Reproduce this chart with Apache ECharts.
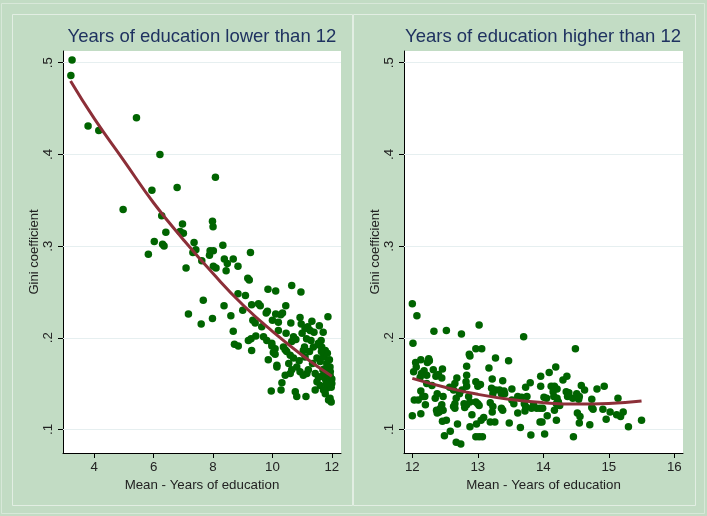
<!DOCTYPE html>
<html>
<head>
<meta charset="utf-8">
<script src="https://cdn.jsdelivr.net/npm/echarts@6/dist/echarts.min.js"></script>
<style>
  html, body { margin: 0; padding: 0; background: #c2dcc4; }
  #chart { width: 707px; height: 516px; }
</style>
</head>
<body>
<div id="chart"></div>
<script>
// mean years of education vs gini, districts below 12 years
const lowerEdu = [
  [3.25,0.503],[3.21,0.486],[3.79,0.431],[4.15,0.426],[5.42,0.440],[6.21,0.400],[8.08,0.375],
  [6.79,0.364],[5.94,0.361],[4.97,0.340],[6.27,0.333],[6.97,0.324],[7.98,0.327],[8.00,0.321],
  [6.41,0.315],[6.89,0.316],[7.00,0.314],[6.02,0.305],[6.30,0.302],[6.35,0.300],[5.82,0.291],
  [7.36,0.304],[8.33,0.301],[7.32,0.293],[7.42,0.296],[7.90,0.295],[8.01,0.295],[7.88,0.290],
  [9.26,0.293],[7.62,0.284],[8.38,0.286],[8.48,0.281],[8.68,0.286],[8.01,0.278],[8.10,0.276],
  [8.44,0.273],[8.84,0.278],[7.09,0.276],[9.17,0.265],[9.22,0.263],[9.85,0.253],[10.11,0.251],
  [10.65,0.257],[10.96,0.250],[8.84,0.248],[9.09,0.246],[7.67,0.241],[8.37,0.235],[9.30,0.236],
  [9.53,0.237],[9.59,0.235],[10.45,0.235],[7.17,0.226],[8.60,0.224],[7.98,0.221],[7.60,0.215],
  [9.00,0.230],[8.68,0.207],[9.34,0.219],[9.42,0.216],[9.83,0.229],[9.79,0.227],[10.11,0.226],
  [10.28,0.225],[10.34,0.227],[10.00,0.219],[10.20,0.217],[10.93,0.222],[11.33,0.218],[11.87,0.223],
  [10.62,0.216],[10.97,0.215],[11.10,0.210],[11.27,0.208],[11.19,0.212],[11.58,0.213],[11.71,0.206],
  [9.64,0.212],[10.20,0.208],[10.46,0.205],[9.19,0.197],[9.28,0.199],[9.44,0.202],[9.70,0.201],
  [9.81,0.197],[10.71,0.201],[10.79,0.198],[10.65,0.196],[11.15,0.199],[11.30,0.197],[11.64,0.197],
  [11.58,0.192],[11.66,0.190],[8.72,0.193],[8.85,0.191],[9.98,0.191],[10.09,0.188],[10.37,0.190],
  [10.43,0.187],[11.08,0.190],[11.38,0.190],[9.30,0.186],[9.86,0.176],[9.98,0.194],[10.03,0.184],
  [10.09,0.182],[10.15,0.168],[10.43,0.159],[10.32,0.151],[9.96,0.142],[10.29,0.143],[10.48,0.185],
  [10.60,0.181],[10.71,0.178],[11.04,0.186],[11.10,0.179],[10.82,0.168],[10.65,0.165],[10.60,0.161],
  [10.93,0.163],[11.04,0.159],[11.16,0.161],[11.21,0.165],[10.77,0.141],[10.82,0.136],[11.13,0.136],
  [11.44,0.143],[11.55,0.194],[11.78,0.186],[11.50,0.178],[11.61,0.174],[11.72,0.179],[11.83,0.172],
  [11.94,0.168],[11.44,0.161],[11.55,0.157],[11.66,0.158],[11.78,0.155],[11.89,0.153],[12.00,0.155],
  [11.61,0.148],[11.72,0.143],[11.83,0.145],[11.78,0.139],[11.94,0.134],[11.98,0.130],[11.89,0.132],
  [12.00,0.150],[11.95,0.158],[11.85,0.163],[11.75,0.166],[11.92,0.176],[10.15,0.170],[11.40,0.206],
  [11.25,0.185],[11.35,0.172],[11.70,0.165],[11.88,0.160],[11.98,0.146],[11.85,0.183],[10.90,0.175],
  [11.00,0.205],[10.55,0.172],[11.50,0.152],[11.65,0.185],[11.95,0.163],[11.82,0.150]
];

// districts above 12 years
const higherEdu = [
  [12.00,0.237],[12.07,0.224],[12.33,0.207],[12.52,0.208],[12.75,0.204],[13.02,0.214],[13.70,0.201],
  [14.49,0.188],[12.01,0.194],[12.97,0.188],[13.06,0.188],[12.87,0.182],[12.88,0.180],[13.27,0.178],
  [13.47,0.175],[12.13,0.176],[12.25,0.177],[12.23,0.173],[12.26,0.175],[12.05,0.173],[12.02,0.163],
  [12.06,0.168],[12.83,0.169],[13.17,0.167],[12.46,0.166],[12.32,0.165],[12.40,0.160],[12.36,0.158],
  [12.45,0.156],[12.14,0.161],[12.18,0.164],[12.12,0.157],[12.22,0.159],[12.68,0.156],[12.83,0.159],
  [12.65,0.150],[13.22,0.155],[13.38,0.153],[12.22,0.150],[12.30,0.148],[12.82,0.152],[12.83,0.147],
  [12.97,0.152],[13.04,0.149],[13.00,0.147],[12.57,0.146],[12.63,0.143],[12.76,0.143],[12.72,0.139],
  [13.52,0.144],[13.21,0.145],[13.27,0.143],[13.33,0.143],[13.36,0.139],[13.23,0.139],[13.40,0.142],
  [13.41,0.139],[12.13,0.142],[12.16,0.136],[12.35,0.134],[12.38,0.139],[12.03,0.132],[12.09,0.132],
  [12.19,0.136],[12.47,0.136],[12.86,0.136],[12.88,0.130],[12.83,0.127],[12.67,0.134],[12.65,0.128],
  [12.65,0.123],[12.97,0.130],[13.02,0.126],[13.00,0.128],[13.19,0.129],[13.23,0.125],[13.22,0.119],
  [13.36,0.123],[13.38,0.121],[13.52,0.132],[13.55,0.128],[13.61,0.136],[13.67,0.135],[12.45,0.127],
  [12.43,0.123],[12.41,0.119],[12.47,0.121],[12.20,0.127],[12.37,0.121],[12.38,0.118],[12.79,0.128],
  [12.80,0.124],[12.91,0.116],[12.63,0.125],[12.00,0.115],[12.13,0.117],[12.46,0.109],[12.52,0.110],
  [12.69,0.106],[12.58,0.098],[12.49,0.093],[12.67,0.086],[12.74,0.084],[12.88,0.103],[12.97,0.092],
  [13.02,0.092],[13.07,0.092],[13.05,0.110],[13.09,0.113],[12.98,0.106],[13.19,0.108],[13.26,0.108],
  [13.48,0.107],[13.65,0.102],[13.61,0.118],[13.72,0.120],[13.73,0.125],[13.71,0.128],[13.73,0.146],
  [13.75,0.136],[13.80,0.151],[13.82,0.123],[13.85,0.127],[13.90,0.123],[13.95,0.123],[13.99,0.123],
  [13.81,0.094],[13.96,0.158],[13.96,0.147],[13.95,0.108],[13.98,0.108],[14.02,0.095],[14.01,0.135],
  [14.05,0.134],[14.06,0.115],[14.09,0.162],[14.19,0.168],[14.12,0.147],[14.17,0.147],[14.21,0.144],
  [14.15,0.141],[14.16,0.136],[14.21,0.134],[14.23,0.130],[14.20,0.128],[14.25,0.126],[14.17,0.121],
  [14.20,0.110],[14.30,0.154],[14.36,0.158],[14.35,0.141],[14.39,0.140],[14.37,0.136],[14.45,0.134],
  [14.46,0.092],[14.51,0.139],[14.55,0.136],[14.54,0.133],[14.52,0.118],[14.56,0.114],[14.55,0.107],
  [14.58,0.148],[14.63,0.143],[14.74,0.133],[14.74,0.124],[14.76,0.122],[14.82,0.144],[14.71,0.105],
  [14.93,0.147],[14.91,0.122],[14.96,0.111],[15.02,0.119],[15.12,0.116],[15.18,0.114],[15.22,0.119],
  [15.14,0.134],[15.30,0.103],[15.50,0.110]
];

// quadratic fit lines
const lowerFitX = [3.2, 4, 5, 6, 7, 8, 9, 10, 11, 12];
const lowerFitY = [0.480, 0.439, 0.393, 0.347, 0.307, 0.270, 0.236, 0.207, 0.181, 0.158];
const higherFitX = [12, 12.5, 13, 13.5, 14, 14.5, 15, 15.5];
const higherFitY = [0.1557, 0.1460, 0.1383, 0.1327, 0.1292, 0.1277, 0.1284, 0.1311];

const yTicks = [0.1, 0.2, 0.3, 0.4, 0.5];
const lowerXTicks = [4, 6, 8, 10, 12];
const higherXTicks = [12, 13, 14, 15, 16];

const titles = ["Years of education lower than 12", "Years of education higher than 12"];

const pair = (xs, ys) => xs.map((x, i) => [x, ys[i]]);
const fontFamily = "'Liberation Sans', Arial, sans-serif";
const dotColor = "#006400";
const fitColor = "#8c2f38";

const chart = echarts.init(document.getElementById("chart"));

const grids = [
  { left: 63, width: 278, top: 51, height: 402 },
  { left: 404, width: 279, top: 51, height: 402 },
];

function xAxisFor(i, min, max, ticks) {
  return {
    gridIndex: i,
    type: "value",
    min: min,
    max: max,
    name: "Mean - Years of education",
    nameLocation: "middle",
    nameGap: 20,
    nameTextStyle: { color: "#222", fontSize: 13.3, fontFamily: fontFamily },
    axisLine: { show: true, onZero: false, lineStyle: { color: "#000", width: 1 } },
    axisTick: { show: true, length: 5, customValues: ticks, lineStyle: { color: "#000" } },
    axisLabel: { customValues: ticks, color: "#222", fontSize: 13.3, fontFamily: fontFamily, margin: 8 },
    splitLine: { show: false },
  };
}

function yAxisFor(i) {
  return {
    gridIndex: i,
    type: "value",
    min: 0.0743,
    max: 0.5128,
    name: "Gini coefficient",
    nameLocation: "middle",
    nameRotate: 90,
    nameGap: 22,
    nameTextStyle: { color: "#222", fontSize: 13, fontFamily: fontFamily },
    axisLine: { show: true, onZero: false, lineStyle: { color: "#000", width: 1 } },
    axisTick: { show: true, length: 5, customValues: yTicks, lineStyle: { color: "#000" } },
    axisLabel: {
      customValues: yTicks,
      rotate: 90,
      color: "#222",
      fontSize: 13.3,
      fontFamily: fontFamily,
      margin: 8,
      formatter: (v) => v.toFixed(1).replace(/^0/, ""),
    },
    splitLine: { show: false },
  };
}

function gridLines(i) {
  return {
    type: "line",
    xAxisIndex: i,
    yAxisIndex: i,
    data: [],
    z: 1,
    silent: true,
    markLine: {
      silent: true,
      z: 1,
      symbol: "none",
      label: { show: false },
      lineStyle: { color: "#e6eff0", width: 1, type: "solid" },
      data: yTicks.map((v) => ({ yAxis: v })),
    },
  };
}

const option = {
  animation: false,
  backgroundColor: "#c2dcc4",
  graphic: [
    { type: "rect", shape: { x: 1.5, y: 3.5, width: 703, height: 510 }, style: { fill: "none", stroke: "#d8e8d9", lineWidth: 1 }, silent: true },
    { type: "rect", shape: { x: 12.5, y: 14.5, width: 340, height: 491 }, style: { fill: "none", stroke: "#e2eee3", lineWidth: 1 }, silent: true },
    { type: "rect", shape: { x: 353.5, y: 14.5, width: 342, height: 491 }, style: { fill: "none", stroke: "#e2eee3", lineWidth: 1 }, silent: true },
  ],
  title: [
    {
      text: titles[0],
      left: 202,
      top: 27,
      padding: 0,
      textAlign: "center",
      textStyle: { color: "#1f3260", fontSize: 18.5, fontWeight: "normal", fontFamily: fontFamily },
    },
    {
      text: titles[1],
      left: 543,
      top: 27,
      padding: 0,
      textAlign: "center",
      textStyle: { color: "#1f3260", fontSize: 18.5, fontWeight: "normal", fontFamily: fontFamily },
    },
  ],
  grid: grids.map((g) => ({ ...g, show: true, backgroundColor: "#ffffff", borderWidth: 0 })),
  xAxis: [xAxisFor(0, 2.945, 12.31, lowerXTicks), xAxisFor(1, 11.873, 16.133, higherXTicks)],
  yAxis: [yAxisFor(0), yAxisFor(1)],
  series: [
    gridLines(0),
    gridLines(1),
    {
      type: "scatter",
      xAxisIndex: 0,
      yAxisIndex: 0,
      data: lowerEdu,
      symbol: "circle",
      symbolSize: 7.5,
      itemStyle: { color: dotColor, opacity: 1 },
      z: 3,
    },
    {
      type: "scatter",
      xAxisIndex: 1,
      yAxisIndex: 1,
      data: higherEdu,
      symbol: "circle",
      symbolSize: 7.5,
      itemStyle: { color: dotColor, opacity: 1 },
      z: 3,
    },
    {
      type: "line",
      xAxisIndex: 0,
      yAxisIndex: 0,
      data: pair(lowerFitX, lowerFitY),
      smooth: true,
      showSymbol: false,
      lineStyle: { color: fitColor, width: 3 },
      z: 4,
    },
    {
      type: "line",
      xAxisIndex: 1,
      yAxisIndex: 1,
      data: pair(higherFitX, higherFitY),
      smooth: true,
      showSymbol: false,
      lineStyle: { color: fitColor, width: 3 },
      z: 4,
    },
  ],
};

chart.setOption(option);
</script>
</body>
</html>
